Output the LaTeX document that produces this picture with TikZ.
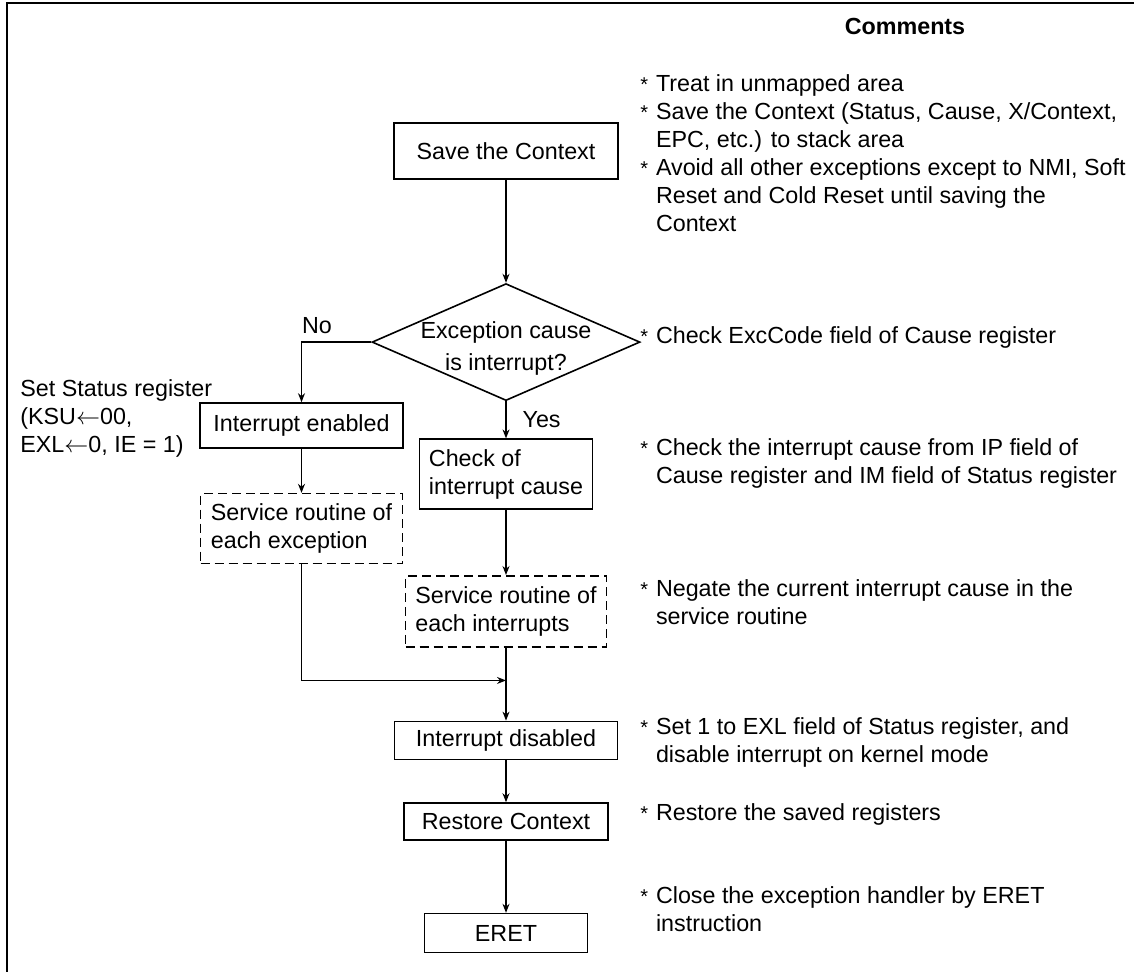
\documentclass[tikz,border=0pt]{standalone}
\usepackage{fontspec}
\setmainfont{Liberation Sans}
\usepackage{tikz}
\usetikzlibrary{shapes.geometric, arrows.meta, positioning, calc}

\newcommand{\astr}{\makebox[7.8pt][l]{\fontsize{10}{14}\selectfont *}}
\newcommand{\cind}{\hspace*{7.8pt}}

\begin{document}
\begin{tikzpicture}[
  x=0.5pt, y=-0.5pt,
  font=\fontsize{11.65}{14}\selectfont,
  box/.style={rectangle, draw=black, line width=0.8pt, align=center, inner sep=2pt},
  dbox/.style={box, dash pattern=on 4.5pt off 2.5pt, align=left},
  dec/.style={diamond, draw=black, line width=0.8pt, aspect=2.29,
              minimum width=134pt, minimum height=58.5pt, inner sep=0pt},
  arr/.style={-{Stealth[length=4.5pt, width=3.5pt]}, line width=0.6pt},
  cmt/.style={anchor=north west, align=left, inner sep=0pt},
  lbl/.style={inner sep=0pt}
]
\useasboundingbox (0,0) rectangle (1134,972);

% Frame
\draw[line width=1.2pt] (7,972) -- (7,3) -- (1134,3);

% Flow nodes (top to bottom)
\node[box, minimum width=112pt, minimum height=28pt] (save) at (506,151) {Save the Context};
\node[dec, below=51.5pt of save] (dec) {};
\node[lbl, align=center] (dectxt) at ([yshift=-3pt]dec.center) {Exception cause\\[2pt]is interrupt?};
\node[box, align=left, minimum width=86.5pt, minimum height=35pt, below=18.5pt of dec] (chk) {Check of\\interrupt cause};
\node[dbox, minimum width=100.5pt, minimum height=35.5pt, below=32.5pt of chk] (sri) {Service routine of\\each interrupts};
\node[box, minimum width=111.5pt, minimum height=19pt, below=36.5pt of sri] (idis) {Interrupt disabled};
\node[box, minimum width=102pt, minimum height=18.5pt, below=21pt of idis] (rst) {Restore Context};
\node[box, minimum width=81.5pt, minimum height=19.5pt, below=36pt of rst] (eret) {ERET};

% Exception branch
\node[box, minimum width=101.5pt, minimum height=22.5pt] (ie) at (301.5,425.5) {Interrupt enabled};
\node[dbox, minimum width=101pt, minimum height=35pt, below=22pt of ie] (sre) {Service routine of\\each exception};
\node[cmt] (setst) at (20,379) {Set Status register\\(KSU\(\leftarrow\)00,\\EXL\(\leftarrow\)0, IE = 1)};

% Arrows
\foreach \s/\t in {save/dec, ie/sre, chk/sri, sri/idis, idis/rst, rst/eret}
  \draw[arr] (\s) -- (\t);
\draw[arr] (dec.west) -| node[pos=0.5, lbl, anchor=south west, yshift=4pt] (lno) {No} (ie);
\draw[arr] (dec) -- node[midway, lbl, right=8pt] (lyes) {Yes} (chk);
\coordinate (mrg) at ($(sri.south)!0.45!(idis.north)$);
\draw[arr] (sre.south) |- (mrg);

% Comments
\node[anchor=base, font=\fontsize{11.65}{14}\selectfont\bfseries] (chead) at (905,35) {Comments};
\node[cmt] (cSave) at (640,74) {\astr Treat in unmapped area\\
  \astr Save the Context (Status, Cause, X/Context,\\
  \cind EPC, etc.) to stack area\\
  \astr Avoid all other exceptions except to NMI, Soft\\
  \cind Reset and Cold Reset until saving the\\
  \cind Context};
\node[cmt] (cDec) at (640,326) {\astr Check ExcCode field of Cause register};
\node[cmt] (cChk) at (640,438) {\astr Check the interrupt cause from IP field of\\
  \cind Cause register and IM field of Status register};
\node[cmt] (cSri) at (640,579) {\astr Negate the current interrupt cause in the\\
  \cind service routine};
\node[cmt] (cIdis) at (640,717) {\astr Set 1 to EXL field of Status register, and\\
  \cind disable interrupt on kernel mode};
\node[cmt] (cRst) at (640,803) {\astr Restore the saved registers};
\node[cmt] (cEret) at (640,886) {\astr Close the exception handler by ERET\\
  \cind instruction};

\end{tikzpicture}
\end{document}
